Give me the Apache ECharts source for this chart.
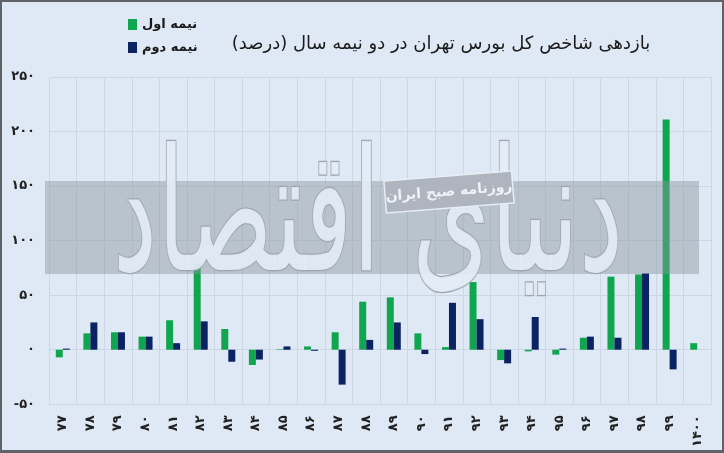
<!DOCTYPE html>
<html>
<head>
<meta charset="utf-8">
<script src="https://cdn.jsdelivr.net/npm/echarts@6/dist/echarts.min.js"></script>
<style>
html,body{margin:0;padding:0;}
body{width:724px;height:453px;overflow:hidden;background:#dfe9f5;}
#chart{width:720px;height:448px;border:2px solid #5f6266;border-bottom-width:3px;}
</style>
</head>
<body>
<div id="chart"></div>
<script>
const categories = ['۷۷','۷۸','۷۹','۸۰','۸۱','۸۲','۸۳','۸۴','۸۵','۸۶','۸۷','۸۸','۸۹','۹۰','۹۱','۹۲','۹۳','۹۴','۹۵','۹۶','۹۷','۹۸','۹۹','۱۴۰۰'];
const firstHalf  = [-7, 15, 16, 12, 27, 79, 19, -14, 0.5, 3, 16, 44, 48, 15, 2.4, 62, -9.5, -1.5, -4.5, 11, 67, 69, 211, 6];
const secondHalf = [1, 25, 16, 12, 6, 26, -11, -9, 3, -1, -32, 9, 25, -4, 43, 28, -12.5, 30, 1, 12, 11, 70, -18, null];
const seriesNames = ['نیمه اول', 'نیمه دوم'];
const titleText = 'بازدهی شاخص کل بورس تهران در دو نیمه سال (درصد)';
const yTicks = {min: -50, max: 250, interval: 50};

const fa = s => String(s).replace(/\d/g, d => '۰۱۲۳۴۵۶۷۸۹'[d]);
const font = 'DejaVu Sans';

const chart = echarts.init(document.getElementById('chart'));
chart.setOption({
  backgroundColor: '#dfe9f5',
  animation: false,
  textStyle: {fontFamily: font},
  title: {
    text: titleText,
    left: 434, top: 28, textAlign: 'center',
    textStyle: {fontFamily: font, fontSize: 18, fontWeight: 'normal', color: '#1a1a1a'}
  },
  legend: {
    orient: 'vertical', left: 121, top: 11,
    itemWidth: 9, itemHeight: 11, itemGap: 10,
    icon: 'rect',
    textStyle: {fontFamily: font, fontSize: 13, fontWeight: 'bold', color: '#1a1a1a'},
    data: seriesNames
  },
  grid: {left: 47, right: 11, top: 75, bottom: 43, containLabel: false},
  xAxis: {
    type: 'category', data: categories,
    axisLine: {show: false}, axisTick: {show: false},
    splitLine: {show: true, lineStyle: {color: '#ccd7e4', width: 1}},
    axisLabel: {rotate: 90, margin: 11, fontFamily: font, fontSize: 13, fontWeight: 'bold', color: '#222', interval: 0}
  },
  yAxis: {
    type: 'value', min: yTicks.min, max: yTicks.max, interval: yTicks.interval,
    axisLine: {show: false}, axisTick: {show: false},
    splitLine: {lineStyle: {color: '#ccd7e4', width: 1}},
    axisLabel: {margin: 14, fontFamily: font, fontSize: 13, fontWeight: 'bold', color: '#222',
      formatter: v => (v < 0 ? '-' + fa(-v) : fa(v))}
  },
  series: [
    {name: seriesNames[0], type: 'bar', data: firstHalf, barWidth: 7, barGap: '0%',
     itemStyle: {color: '#10a64f'}},
    {name: seriesNames[1], type: 'bar', data: secondHalf, barWidth: 7,
     itemStyle: {color: '#0b2461'}}
  ],
  graphic: [
    {type: 'rect', z: 50, silent: true,
     shape: {x: 43, y: 179, width: 654, height: 93},
     style: {fill: 'rgba(140,148,160,0.45)'}},
    {type: 'text', z: 51, silent: true, x: 366, y: 224, scaleY: 1.7,
     style: {text: 'دنیای اقتصاد', font: '100px "DejaVu Sans"', align: 'center', verticalAlign: 'middle',
       fill: 'rgba(228,236,246,0.9)', stroke: '#9ea6b0', lineWidth: 1.5}},
    {type: 'group', z: 52, x: 447, y: 190, rotation: 0.08, silent: true,
     children: [
       {type: 'rect', z: 52, shape: {x: -64, y: -16, width: 128, height: 32},
        style: {fill: '#aeb5be', stroke: '#e8eef6', lineWidth: 1.5}},
       {type: 'text', z: 53, style: {text: 'روزنامه صبح ایران', font: 'bold 14px "DejaVu Sans"', align: 'center', verticalAlign: 'middle', fill: '#eef3f9'}}
     ]}
  ]
});
</script>
</body>
</html>
